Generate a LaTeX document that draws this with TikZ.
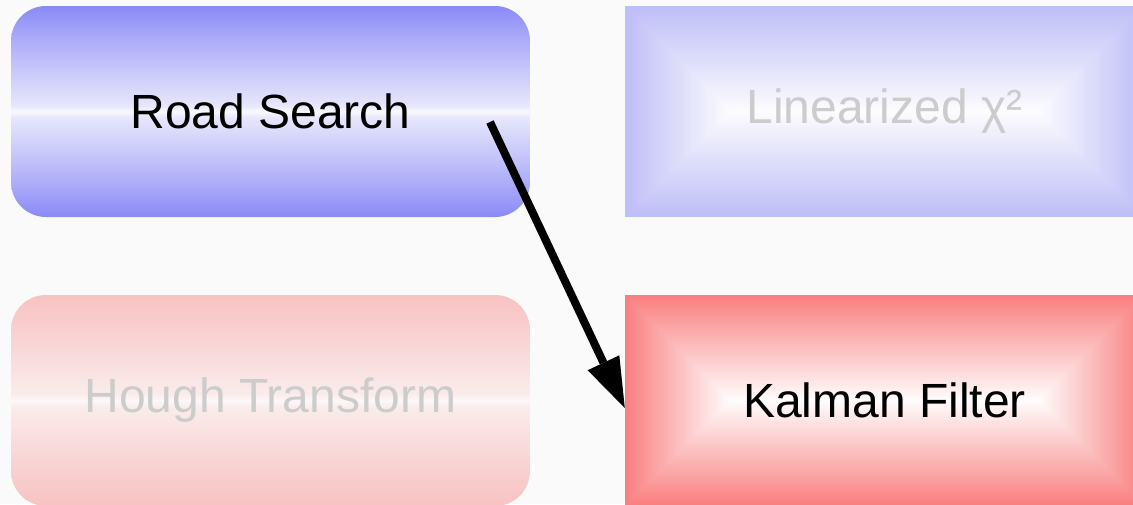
\documentclass[tikz,border=0pt]{standalone}
\usepackage{fontspec}
\setmainfont{Liberation Sans}
\usetikzlibrary{arrows.meta}
\definecolor{bgc}{RGB}{250,250,250}
\definecolor{bE}{RGB}{138,138,246}
\definecolor{bM}{RGB}{188,188,250}
\definecolor{bN}{RGB}{230,230,252}
\definecolor{bC}{RGB}{248,248,253}
\definecolor{pE}{RGB}{248,194,194}
\definecolor{pM}{RGB}{249,214,214}
\definecolor{pN}{RGB}{250,236,236}
\definecolor{pC}{RGB}{252,248,248}
\definecolor{lE}{RGB}{190,190,248}
\definecolor{lC}{RGB}{252,252,254}
\definecolor{kE}{RGB}{250,128,128}
\definecolor{kC}{RGB}{254,252,252}
\definecolor{txtgray}{RGB}{204,204,204}
\pgfdeclareverticalshading{blueaxis}{100bp}{color(0bp)=(bE); color(25bp)=(bE); color(37bp)=(bM); color(48.5bp)=(bN); color(50bp)=(bC); color(51.5bp)=(bN); color(63bp)=(bM); color(75bp)=(bE); color(100bp)=(bE)}
\pgfdeclareverticalshading{pinkaxis}{100bp}{color(0bp)=(pE); color(25bp)=(pE); color(37bp)=(pM); color(48.5bp)=(pN); color(50bp)=(pC); color(51.5bp)=(pN); color(63bp)=(pM); color(75bp)=(pE); color(100bp)=(pE)}
\newcommand{\pyrbox}[6]{%
  \foreach \i in {0,...,53}{%
    \pgfmathsetmacro{\dd}{\i*#4/2/54}%
    \pgfmathtruncatemacro{\pp}{100*\i/53}%
    \colorlet{tmpc}{#6!\pp!#5}%
    \fill[tmpc] (#1+\dd,#2+\dd) rectangle (#1+#3-\dd,#2+#4-\dd);
  }}
\tikzset{
  box/.style={minimum width=519pt, minimum height=211pt, inner sep=0pt, font=\fontsize{48}{58}\selectfont},
  rbox/.style={box, rounded corners=35pt},
  conn/.style={line width=8pt, -{Triangle[length=50pt,width=35pt,line width=0pt]}}
}
\begin{document}
\begin{tikzpicture}[x=1pt,y=-1pt]
\useasboundingbox (0,0) rectangle (1133,504);
\clip (0,0) rectangle (1133,504);
\fill[bgc] (0,0) rectangle (1133,504);
% pyramid-shaded boxes
\pyrbox{625}{6}{519}{211}{lE}{lC}
\pyrbox{625}{295}{519}{211}{kE}{kC}
\node[rbox, shading=blueaxis] (rs) at (270.5,111.5) {Road Search};
\node[rbox, shading=pinkaxis, text=txtgray] (ht) at (270.5,400.5) {Hough Transform};
\node[box, text=txtgray] (lin) at (884.5,111.5) {Linearized χ²};
\node[box] (kf) at (884.5,400.5) {Kalman Filter};
\coordinate (ast) at ([xshift=219.5pt,yshift=-10.5pt]rs.center);
\draw[conn] (ast) -- ([yshift=-7.5pt]kf.west);
\end{tikzpicture}
\end{document}
